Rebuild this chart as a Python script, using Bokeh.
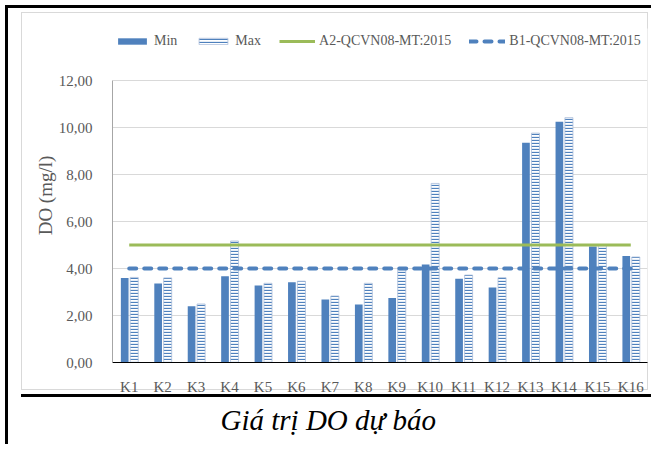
from bokeh.plotting import figure
from bokeh.models import (FactorRange, Range1d, FixedTicker, CustomJSTickFormatter,
                          Legend, LegendItem, ColumnDataSource, Title)
from bokeh.transform import dodge
from bokeh.embed import file_html
from bokeh.resources import INLINE

# ---- data ----
stations = ["K1", "K2", "K3", "K4", "K5", "K6", "K7", "K8",
            "K9", "K10", "K11", "K12", "K13", "K14", "K15", "K16"]
do_min = [3.60, 3.36, 2.39, 3.67, 3.28, 3.42, 2.68, 2.47,
          2.74, 4.17, 3.56, 3.19, 9.35, 10.25, 4.94, 4.53]
do_max = [3.62, 3.60, 2.49, 5.17, 3.37, 3.46, 2.83, 3.37,
          3.94, 7.62, 3.72, 3.61, 9.76, 10.42, 4.97, 4.49]
a2_limit = 5.0
b1_limit = 4.0
y_ticks = [0, 2, 4, 6, 8, 10, 12]
series_names = ["Min", "Max", "A2-QCVN08-MT:2015", "B1-QCVN08-MT:2015"]
caption = "Giá trị DO dự báo"

SERIF = "Liberation Serif"
GRAY = "#595959"
BLUE = "#4F81BD"
GREEN = "#9BBB59"
LGRAY = "#d9d9d9"

# layout (pixels): frame extends up to hold the legend row; axis covers 0..12 only
FRAME_TOP, AXIS_TOP, AXIS_BOTTOM = 28, 80, 362
y_top = y_ticks[-1] * (AXIS_BOTTOM - FRAME_TOP) / (AXIS_BOTTOM - AXIS_TOP)

# decorative frame lines drawn by CSS on the figure element: (x, y, w, h, colour)
deco = [(5, 5, 3, 439, "#000"), (5, 5, 646, 3, "#000"),
        (21, 12, 627, 1, LGRAY), (21, 389, 627, 1, LGRAY),
        (21, 12, 1, 378, LGRAY), (647, 12, 1, 378, LGRAY),
        (21, 394, 630, 3, "#000")]
css = {
    "background-color": "white",
    "background-image": ", ".join(f"linear-gradient({c},{c})" for *_, c in deco),
    "background-size": ", ".join(f"{w}px {h}px" for _, _, w, h, _ in deco),
    "background-position": ", ".join(f"{x}px {y}px" for x, y, *_ in deco),
    "background-repeat": "no-repeat",
}

p = figure(x_range=FactorRange(factors=stations, range_padding=0),
           y_range=Range1d(0, y_top),
           width=651, height=444,
           min_border_left=112, min_border_right=4,
           min_border_top=FRAME_TOP, min_border_bottom=444 - AXIS_BOTTOM,
           output_backend="svg", toolbar_location=None, styles=css)
p.outline_line_color = None
p.background_fill_color = "white"
p.border_fill_alpha = 0

src = ColumnDataSource(dict(k=stations, mn=do_min, mx=do_max,
                            a2=[a2_limit] * len(stations),
                            b1=[b1_limit] * len(stations)))

r_min = p.vbar(x=dodge("k", -0.135, range=p.x_range), top="mn", width=0.23,
               source=src, fill_color=BLUE, line_color=None)
r_max = p.vbar(x=dodge("k", 0.15, range=p.x_range), top="mx", width=0.24,
               source=src, fill_color="white", line_color="#a9bcd9", line_width=0.8,
               hatch_pattern="horizontal_line", hatch_color=BLUE,
               hatch_scale=3, hatch_weight=1.3)
r_a2 = p.line(x="k", y="a2", source=src, line_color=GREEN, line_width=3)
r_b1 = p.line(x="k", y="b1", source=src, line_color=BLUE, line_width=4,
              line_dash="7 8", line_cap="round")

# axes
p.yaxis.ticker = FixedTicker(ticks=y_ticks)
p.yaxis.bounds = (y_ticks[0], y_ticks[-1])
p.yaxis.formatter = CustomJSTickFormatter(code="return tick.toFixed(2).replace('.', ',');")
p.yaxis.axis_label = "DO (mg/l)"
p.yaxis.axis_label_text_font = SERIF
p.yaxis.axis_label_text_font_style = "normal"
p.yaxis.axis_label_text_font_size = "19px"
p.yaxis.axis_label_text_color = GRAY
p.yaxis.axis_label_standoff = 0
p.yaxis.axis_line_color = "#a6a6a6"
p.xaxis.axis_line_color = "black"
for ax in (p.xaxis, p.yaxis):
    ax.major_tick_line_color = None
    ax.minor_tick_line_color = None
    ax.major_label_text_font = SERIF
    ax.major_label_text_font_size = "15px"
    ax.major_label_text_color = GRAY
p.yaxis.major_label_standoff = 14
p.xaxis.major_label_standoff = 10
p.xgrid.grid_line_color = None
p.ygrid.grid_line_color = LGRAY

legend = Legend(items=[LegendItem(label=n, renderers=[r]) for n, r in
                       zip(series_names, [r_min, r_max, r_a2, r_b1])],
                orientation="horizontal",
                location=(2, AXIS_BOTTOM - 49),
                glyph_width=36, glyph_height=8, label_height=15,
                label_text_font=SERIF, label_text_font_size="14px",
                label_text_color=GRAY, border_line_color=None,
                background_fill_alpha=0, padding=0, margin=0,
                spacing=18, label_standoff=4)
p.add_layout(legend, "center")

p.add_layout(Title(text=caption, align="left", offset=108, standoff=8,
                   text_font=SERIF, text_font_style="italic", text_font_size="29px",
                   text_color="black"), "below")

open("out.html", "w").write(file_html(p, INLINE))
